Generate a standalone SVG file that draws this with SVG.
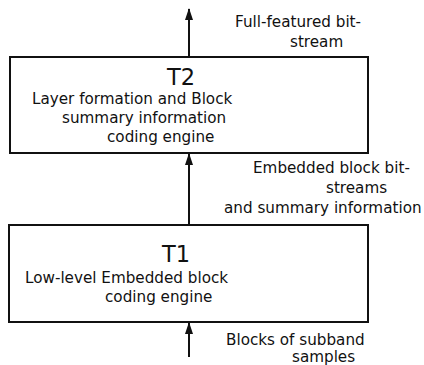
<svg xmlns="http://www.w3.org/2000/svg" width="424" height="365" viewBox="0 0 424 365">
  <style>
    .box { fill: #ffffff; stroke: #111111; stroke-width: 2; }
    .shaft { stroke: #111111; stroke-width: 2; fill: none; }
    .tip { fill: #111111; }
    text { font-family: "DejaVu Sans", "Liberation Sans", sans-serif; fill: #111111; }
    .title { font-size: 22.5px; }
    .body { font-size: 15.2px; }
  </style>
  <rect width="424" height="365" fill="#ffffff"/>

  <!-- connectors: data flows upward through the two tiers -->
  <g id="connectors">
    <path class="shaft" d="M189,357 L189,323"/>
    <polygon class="tip" points="189,322 185,334 193,334"/>
    <path class="shaft" d="M189,225 L189,154"/>
    <polygon class="tip" points="189,153 185,165 193,165"/>
    <path class="shaft" d="M189,57 L189,9"/>
    <polygon class="tip" points="189,8 185,20 193,20"/>
  </g>

  <!-- connector labels -->
  <g id="label-output">
    <text class="body" x="235" y="27">Full-featured bit-</text>
    <text class="body" x="290" y="47">stream</text>
  </g>
  <g id="label-embedded">
    <text class="body" x="253" y="173">Embedded block bit-</text>
    <text class="body" x="326" y="193">streams</text>
    <text class="body" x="224" y="213">and summary information</text>
  </g>
  <g id="label-input">
    <text class="body" x="226" y="345">Blocks of subband</text>
    <text class="body" x="292" y="362">samples</text>
  </g>

  <!-- tier 2 -->
  <g id="t2">
    <rect class="box" x="10" y="57" width="358" height="96"/>
    <text class="title" x="167" y="85">T2</text>
    <text class="body" x="32" y="104">Layer formation and Block</text>
    <text class="body" x="62" y="123">summary information</text>
    <text class="body" x="107" y="142">coding engine</text>
  </g>

  <!-- tier 1 -->
  <g id="t1">
    <rect class="box" x="9" y="225" width="359" height="97"/>
    <text class="title" x="162" y="262">T1</text>
    <text class="body" x="25" y="283">Low-level Embedded block</text>
    <text class="body" x="105" y="302">coding engine</text>
  </g>
</svg>
